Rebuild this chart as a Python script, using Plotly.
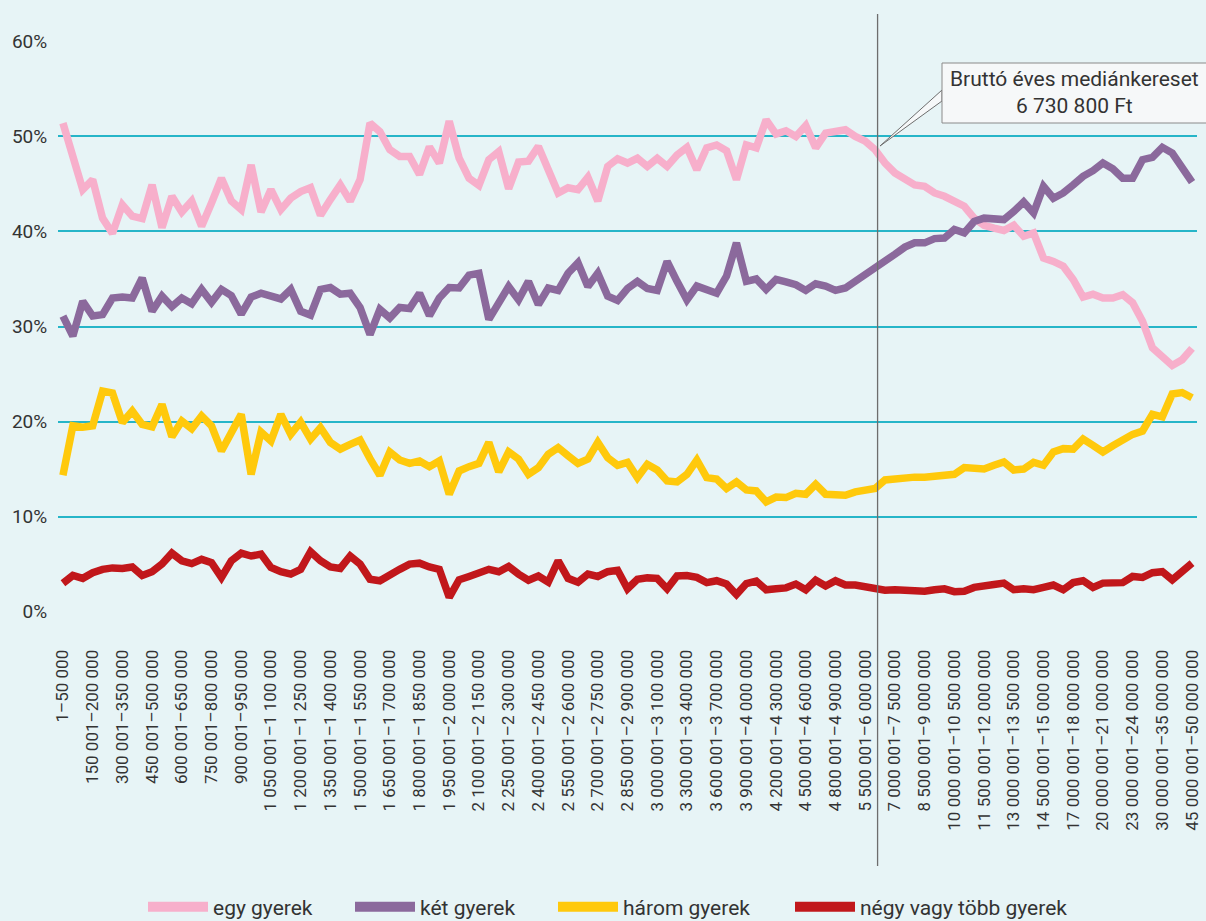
import plotly.graph_objects as go

CATEGORIES = [
    "1–50 000", "50 001–100 000", "100 001–150 000",
    "150 001–200 000", "200 001–250 000", "250 001–300 000",
    "300 001–350 000", "350 001–400 000", "400 001–450 000",
    "450 001–500 000", "500 001–550 000", "550 001–600 000",
    "600 001–650 000", "650 001–700 000", "700 001–750 000",
    "750 001–800 000", "800 001–850 000", "850 001–900 000",
    "900 001–950 000", "950 001–1 000 000", "1 000 001–1 050 000",
    "1 050 001–1 100 000", "1 100 001–1 150 000", "1 150 001–1 200 000",
    "1 200 001–1 250 000", "1 250 001–1 300 000", "1 300 001–1 350 000",
    "1 350 001–1 400 000", "1 400 001–1 450 000", "1 450 001–1 500 000",
    "1 500 001–1 550 000", "1 550 001–1 600 000", "1 600 001–1 650 000",
    "1 650 001–1 700 000", "1 700 001–1 750 000", "1 750 001–1 800 000",
    "1 800 001–1 850 000", "1 850 001–1 900 000", "1 900 001–1 950 000",
    "1 950 001–2 000 000", "2 000 001–2 050 000", "2 050 001–2 100 000",
    "2 100 001–2 150 000", "2 150 001–2 200 000", "2 200 001–2 250 000",
    "2 250 001–2 300 000", "2 300 001–2 350 000", "2 350 001–2 400 000",
    "2 400 001–2 450 000", "2 450 001–2 500 000", "2 500 001–2 550 000",
    "2 550 001–2 600 000", "2 600 001–2 650 000", "2 650 001–2 700 000",
    "2 700 001–2 750 000", "2 750 001–2 800 000", "2 800 001–2 850 000",
    "2 850 001–2 900 000", "2 900 001–2 950 000", "2 950 001–3 000 000",
    "3 000 001–3 100 000", "3 100 001–3 200 000", "3 200 001–3 300 000",
    "3 300 001–3 400 000", "3 400 001–3 500 000", "3 500 001–3 600 000",
    "3 600 001–3 700 000", "3 700 001–3 800 000", "3 800 001–3 900 000",
    "3 900 001–4 000 000", "4 000 001–4 100 000", "4 100 001–4 200 000",
    "4 200 001–4 300 000", "4 300 001–4 400 000", "4 400 001–4 500 000",
    "4 500 001–4 600 000", "4 600 001–4 700 000", "4 700 001–4 800 000",
    "4 800 001–4 900 000", "4 900 001–5 000 000", "5 000 001–5 500 000",
    "5 500 001–6 000 000", "6 000 001–6 500 000", "6 500 001–7 000 000",
    "7 000 001–7 500 000", "7 500 001–8 000 000", "8 000 001–8 500 000",
    "8 500 001–9 000 000", "9 000 001–9 500 000", "9 500 001–10 000 000",
    "10 000 001–10 500 000", "10 500 001–11 000 000", "11 000 001–11 500 000",
    "11 500 001–12 000 000", "12 000 001–12 500 000", "12 500 001–13 000 000",
    "13 000 001–13 500 000", "13 500 001–14 000 000", "14 000 001–14 500 000",
    "14 500 001–15 000 000", "15 000 001–16 000 000", "16 000 001–17 000 000",
    "17 000 001–18 000 000", "18 000 001–19 000 000", "19 000 001–20 000 000",
    "20 000 001–21 000 000", "21 000 001–22 000 000", "22 000 001–23 000 000",
    "23 000 001–24 000 000", "24 000 001–25 000 000", "25 000 001–30 000 000",
    "30 000 001–35 000 000", "35 000 001–40 000 000", "40 000 001–45 000 000",
    "45 000 001–50 000 000",
]

EGY_GYEREK = [
    51.4, 47.9, 44.4, 45.45, 41.4, 39.8, 42.8, 41.6, 41.35, 44.9,
    40.4, 43.7, 42.05, 43.2, 40.55, 43.0, 45.6, 43.2, 42.3, 47.0,
    42.05, 44.4, 42.3, 43.5, 44.2, 44.6, 41.7, 43.35, 44.9, 43.2,
    45.45, 51.4, 50.5, 48.6, 47.9, 47.9, 46.0, 48.9, 47.2, 51.6,
    47.7, 45.6, 44.85, 47.55, 48.4, 44.5, 47.3, 47.4, 48.95, 46.5,
    44.05, 44.6, 44.4, 45.7, 43.2, 46.85, 47.65, 47.2, 47.7, 46.85,
    47.7, 46.85, 48.05, 48.85, 46.5, 48.8, 49.1, 48.5, 45.45, 49.1,
    48.8, 51.75, 50.25, 50.6, 50.0, 51.15, 48.8, 50.35, 50.5, 50.7,
    50.0, 49.5, 48.6, 47.2, 46.15, 45.45, 44.9, 44.75, 44.05, 43.7,
    43.2, 42.65, 41.4, 40.65, 40.35, 40.1, 40.65, 39.5, 39.85, 37.2,
    36.85, 36.35, 34.95, 33.1, 33.4, 33.0, 33.0, 33.35, 32.5, 30.55,
    27.75, 26.9, 25.9, 26.5, 27.7,
]

KET_GYEREK = [
    31.1, 29.0, 32.65, 31.1, 31.25, 33.0, 33.1, 33.0, 35.1, 31.6,
    33.2, 32.1, 33.0, 32.4, 33.9, 32.55, 33.9, 33.25, 31.3, 33.1,
    33.5, 33.25, 32.9, 33.9, 31.6, 31.2, 33.9, 34.1, 33.4, 33.5,
    32.0, 29.15, 31.8, 30.9, 32.0, 31.9, 33.5, 31.15, 33.0, 34.1,
    34.05, 35.4, 35.6, 30.75, 32.65, 34.2, 32.8, 34.75, 32.3, 34.05,
    33.8, 35.6, 36.7, 34.2, 35.6, 33.2, 32.75, 34.0, 34.75, 34.0,
    33.8, 36.85, 34.75, 32.8, 34.25, 33.95, 33.5, 35.3, 38.8, 34.75,
    35.0, 33.9, 34.95, 34.7, 34.4, 33.8, 34.5, 34.25, 33.8, 34.05,
    34.75, 35.4, 36.0, 36.85, 37.6, 38.35, 38.8, 38.8, 39.25, 39.3,
    40.2, 39.85, 41.05, 41.4, 41.35, 41.25, 42.1, 43.1, 41.95, 44.75,
    43.5, 44.05, 44.9, 45.8, 46.4, 47.2, 46.6, 45.6, 45.6, 47.55,
    47.8, 48.85, 48.25, 46.7, 45.2,
]

HAROM_GYEREK = [
    14.35, 19.55, 19.4, 19.55, 23.2, 23.0, 19.9, 21.1, 19.7, 19.45,
    21.8, 18.4, 20.05, 19.25, 20.6, 19.55, 16.9, 18.65, 20.75, 14.45,
    18.9, 17.95, 20.75, 18.65, 19.95, 18.15, 19.35, 17.8, 17.1, 17.6,
    18.05, 16.1, 14.35, 16.8, 15.95, 15.6, 15.85, 15.25, 15.85, 12.35,
    14.8, 15.25, 15.6, 17.8, 14.7, 16.8, 16.05, 14.45, 15.15, 16.55,
    17.25, 16.4, 15.6, 16.05, 17.8, 16.2, 15.4, 15.7, 14.1, 15.5,
    14.9, 13.75, 13.65, 14.45, 15.95, 14.1, 13.95, 12.95, 13.65, 12.8,
    12.7, 11.55, 12.05, 12.0, 12.45, 12.35, 13.4, 12.35, 12.2, 12.25,
    12.6, 12.7, 12.95, 13.85, 14.0, 14.05, 14.15, 14.15, 14.3, 14.3,
    14.45, 15.15, 15.05, 15.0, 15.4, 15.75, 14.9, 15.0, 15.7, 15.4,
    16.8, 17.15, 17.1, 18.15, 17.5, 16.8, 17.45, 18.05, 18.65, 19.0,
    20.75, 20.5, 22.9, 23.05, 22.5,
]

NEGY_VAGY_TOBB = [
    2.98, 3.8, 3.5, 4.1, 4.45, 4.6, 4.55, 4.7, 3.8, 4.2,
    5.0, 6.15, 5.35, 5.05, 5.5, 5.15, 3.6, 5.35, 6.15, 5.85,
    6.05, 4.65, 4.2, 3.95, 4.45, 6.3, 5.35, 4.7, 4.55, 5.85,
    5.0, 3.4, 3.25, 3.75, 4.45, 5.0, 5.1, 4.7, 4.45, 1.5,
    3.35, 3.7, 4.0, 4.45, 4.2, 4.75, 3.95, 3.3, 3.75, 3.1,
    5.35, 3.5, 3.1, 3.95, 3.7, 4.2, 4.35, 2.4, 3.4, 3.55,
    3.5, 2.4, 3.75, 3.8, 3.6, 3.05, 3.25, 2.9, 1.8, 2.95,
    3.2, 2.3, 2.4, 2.5, 2.9, 2.3, 3.3, 2.7, 3.25, 2.8,
    2.8, 2.65, 2.55, 2.25, 2.3, 2.2, 2.1, 2.15, 2.3, 2.4,
    2.1, 2.15, 2.55, 2.8, 2.85, 3.0, 2.3, 2.4, 2.3, 2.55,
    2.8, 2.3, 3.05, 3.25, 2.55, 3.0, 3.0, 3.05, 3.7, 3.6,
    4.1, 4.2, 3.35, 4.2, 5.1,
]

SERIES_NAMES = ["egy gyerek", "két gyerek", "három gyerek", "négy vagy több gyerek"]
SERIES_VALUES = [EGY_GYEREK, KET_GYEREK, HAROM_GYEREK, NEGY_VAGY_TOBB]
SERIES_COLORS = ["#f7afcb", "#8b699c", "#ffc90c", "#c1171b"]
LEGEND_ENTRY_WIDTHS = [132, 128, 162, 230]

Y_TICKS = [0, 10, 20, 30, 40, 50, 60]
Y_TICK_TEXT = ["0%", "10%", "20%", "30%", "40%", "50%", "60%"]
X_TICK_LABELS = CATEGORIES[::3]

MEDIAN_TEXT = "Bruttó éves mediánkereset<br>6 730 800 Ft"
MEDIAN_POSITION = 82.25  # position on the category axis (index units)

# ---------------- layout geometry ----------------
W, H = 1206, 921
ML, MR, MT, MB = 58, 9, 41, 309
PW, PH = W - ML - MR, H - MT - MB

BG = "#e7f4f6"
GRID = "#26b5c8"
TEXT = "#333333"
FONT = "Roboto"


def px_x(px):
    return (px - ML) / PW


def px_y(py):
    return (H - MB - py) / PH


fig = go.Figure()
for name, vals, col in zip(SERIES_NAMES, SERIES_VALUES, SERIES_COLORS):
    fig.add_trace(go.Scatter(
        x=CATEGORIES, y=vals, name=name, mode="lines",
        line=dict(color=col, width=7.5),
        showlegend=False,
    ))
# legend entries (thicker symbols as in the original)
for name, col, lw in zip(SERIES_NAMES, SERIES_COLORS, LEGEND_ENTRY_WIDTHS):
    fig.add_trace(go.Scatter(
        x=[CATEGORIES[0]], y=[None], name=name, mode="lines",
        line=dict(color=col, width=12), showlegend=True,
        legendwidth=lw,
    ))

# median vertical line
fig.add_shape(type="line", xref="x", yref="paper",
              x0=MEDIAN_POSITION, x1=MEDIAN_POSITION,
              y0=px_y(866), y1=px_y(14),
              line=dict(color="#6d6d6d", width=1.3), layer="above")

# callout wedge + box
tip = (px_x(880), px_y(146))
fig.add_shape(type="path", xref="paper", yref="paper",
              path=f"M {tip[0]} {tip[1]} L {px_x(942)} {px_y(90)} L {px_x(942)} {px_y(101)} Z",
              fillcolor="#f6f8f9", line=dict(color="#6d6d6d", width=1), layer="above")
fig.add_shape(type="rect", xref="paper", yref="paper",
              x0=px_x(942), x1=px_x(1210), y0=px_y(123), y1=px_y(63),
              fillcolor="#f6f8f9", line=dict(color="#8a8a8a", width=1), layer="above")
fig.add_annotation(xref="paper", yref="paper", x=px_x(1074), y=px_y(92),
                   xanchor="center", yanchor="middle",
                   text=MEDIAN_TEXT, showarrow=False, align="center",
                   font=dict(family=FONT, size=21, color=TEXT))

fig.update_layout(
    width=W, height=H,
    margin=dict(l=ML, r=MR, t=MT, b=MB, autoexpand=False),
    paper_bgcolor=BG, plot_bgcolor=BG,
    font=dict(family=FONT, color=TEXT),
    legend=dict(orientation="h", x=px_x(143), xanchor="left",
                y=px_y(907), yanchor="middle",
                font=dict(family=FONT, size=21, color=TEXT),
                bgcolor="rgba(0,0,0,0)", itemwidth=60),
    xaxis=dict(type="category", range=[-0.5, len(CATEGORIES) - 0.5],
               showgrid=False, zeroline=False, showline=False,
               tickmode="array", tickvals=X_TICK_LABELS, ticktext=X_TICK_LABELS,
               tickangle=-90, ticks="outside", ticklen=30,
               tickcolor="rgba(0,0,0,0)",
               tickfont=dict(family=FONT, size=17, color=TEXT)),
    yaxis=dict(range=[-0.04, 60.04], tickmode="array",
               tickvals=Y_TICKS, ticktext=Y_TICK_TEXT,
               showgrid=True, gridcolor=GRID, gridwidth=2,
               zeroline=False, showline=False,
               ticks="outside", ticklen=6, tickcolor="rgba(0,0,0,0)",
               tickfont=dict(family=FONT, size=19, color=TEXT)),
)

fig.write_html("out.html", config={"displayModeBar": False},
               post_script="document.body.style.margin='0';")
